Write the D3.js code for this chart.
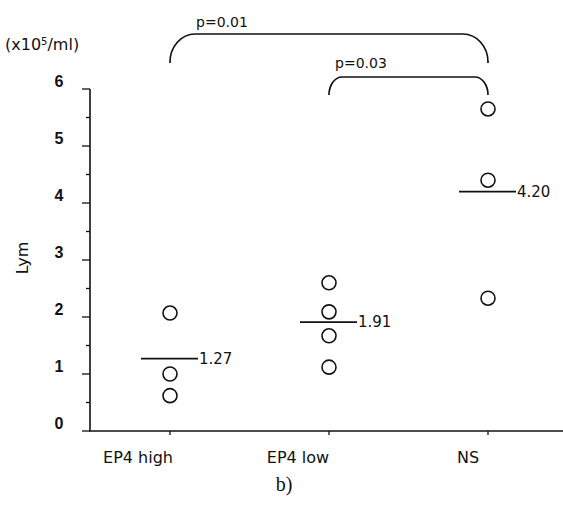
<!DOCTYPE html>
<html>
<head>
<meta charset="utf-8">
<script src="https://cdn.jsdelivr.net/npm/d3@7"></script>
<style>
  body { margin: 0; background: #fff; }
  text { font-family: "DejaVu Sans", sans-serif; fill: #111; }
</style>
</head>
<body>
<div id="plot"></div>
<script>
// Data
const categories = ["EP4 high", "EP4 low", "NS"];
const epHigh = [2.07, 1.0, 0.62];
const epLow = [2.6, 2.09, 1.67, 1.12];
const ns = [5.65, 4.4, 2.33];
const means = [1.27, 1.91, 4.20];
const meanLabels = ["1.27", "1.91", "4.20"];
const yTicks = [0, 1, 2, 3, 4, 5, 6];
const comparisons = [
  { from: "EP4 high", to: "NS", label: "p=0.01" },
  { from: "EP4 low", to: "NS", label: "p=0.03" }
];

const w = 563;
const h = 507;

const svg = d3.select("div#plot")
  .append("svg")
  .attr("width", w)
  .attr("height", h);

// Scales
const xScale = d3.scalePoint().domain(categories).range([170, 488]);
const yScale = d3.scaleLinear().domain([0, 6]).range([431, 89]);

// Y axis line + ticks
svg.append("line")
  .attr("x1", 90).attr("x2", 90)
  .attr("y1", yScale(0)).attr("y2", yScale(6))
  .attr("stroke", "#111").attr("stroke-width", 1.6);

const minor = d3.range(0, 6.01, 0.5);
svg.selectAll(".ytick")
  .data(minor)
  .enter().append("line")
  .attr("x1", d => (d % 1 === 0 ? 82 : 86))
  .attr("x2", 90)
  .attr("y1", d => yScale(d)).attr("y2", d => yScale(d))
  .attr("stroke", "#111").attr("stroke-width", 1.3);

svg.selectAll(".ylab")
  .data(yTicks)
  .enter().append("text")
  .attr("x", 59)
  .attr("y", d => yScale(d) - 2)
  .attr("text-anchor", "middle")
  .attr("font-size", 16)
  .attr("font-weight", "bold")
  .style("font-family", '"Liberation Sans", Arial, sans-serif')
  .text(d => d);

// X axis line + ticks
svg.append("line")
  .attr("x1", 89).attr("x2", 563)
  .attr("y1", yScale(0)).attr("y2", yScale(0))
  .attr("stroke", "#111").attr("stroke-width", 1.6);

svg.selectAll(".xtick")
  .data(categories)
  .enter().append("line")
  .attr("x1", d => xScale(d)).attr("x2", d => xScale(d))
  .attr("y1", yScale(0)).attr("y2", yScale(0) + 4)
  .attr("stroke", "#111").attr("stroke-width", 1.3);

const labelShift = { "EP4 high": -32, "EP4 low": -31, "NS": -20 };
svg.selectAll(".xlab")
  .data(categories)
  .enter().append("text")
  .attr("x", d => xScale(d) + labelShift[d])
  .attr("y", 463)
  .attr("text-anchor", "middle")
  .attr("font-size", 16)
  .text(d => d);

// Axis titles
svg.append("text")
  .attr("x", 5).attr("y", 50)
  .attr("font-size", 16)
  .html('(x10<tspan baseline-shift="super" font-size="10">5</tspan>/ml)');

svg.append("text")
  .attr("transform", "translate(28,258) rotate(-90)")
  .attr("text-anchor", "middle")
  .attr("font-size", 16)
  .text("Lym");

svg.append("text")
  .attr("x", 284).attr("y", 491)
  .attr("text-anchor", "middle")
  .attr("font-size", 20)
  .style("font-family", '"Liberation Serif", "Times New Roman", serif')
  .text("b)");

// Points
const groups = [epHigh, epLow, ns];
groups.forEach((vals, i) => {
  svg.selectAll(".pt" + i)
    .data(vals)
    .enter().append("circle")
    .attr("cx", xScale(categories[i]))
    .attr("cy", d => yScale(d))
    .attr("r", 7)
    .attr("fill", "#fff")
    .attr("stroke", "#111")
    .attr("stroke-width", 1.6);
});

// Mean lines + labels
svg.selectAll(".mean")
  .data(means)
  .enter().append("line")
  .attr("x1", (d, i) => xScale(categories[i]) - 29)
  .attr("x2", (d, i) => xScale(categories[i]) + 28)
  .attr("y1", d => yScale(d)).attr("y2", d => yScale(d))
  .attr("stroke", "#111").attr("stroke-width", 1.8);

svg.selectAll(".meanlab")
  .data(means)
  .enter().append("text")
  .attr("x", (d, i) => xScale(categories[i]) + 29)
  .attr("y", d => yScale(d) + 5)
  .attr("font-size", 15)
  .text((d, i) => meanLabels[i]);

// Significance brackets
const bracketStyle = [
  { top: 34, bottom: 63, rx: 25, ry: 28, lx: 222, ly: 27 },
  { top: 77, bottom: 95, rx: 13, ry: 18, lx: 361, ly: 68 }
];
comparisons.forEach((c, i) => {
  const s = bracketStyle[i];
  const x0 = xScale(c.from), x1 = xScale(c.to);
  const p = d3.path();
  p.moveTo(x0, s.bottom);
  p.lineTo(x0, s.top + s.ry);
  p.bezierCurveTo(x0, s.top + s.ry * 0.45, x0 + s.rx * 0.45, s.top, x0 + s.rx, s.top);
  p.lineTo(x1 - s.rx, s.top);
  p.bezierCurveTo(x1 - s.rx * 0.45, s.top, x1, s.top + s.ry * 0.45, x1, s.top + s.ry);
  p.lineTo(x1, s.bottom);
  svg.append("path")
    .attr("d", p.toString())
    .attr("fill", "none")
    .attr("stroke", "#111")
    .attr("stroke-width", 1.7);
  svg.append("text")
    .attr("x", s.lx).attr("y", s.ly)
    .attr("text-anchor", "middle")
    .attr("font-size", 14)
    .text(c.label);
});
</script>
</body>
</html>
